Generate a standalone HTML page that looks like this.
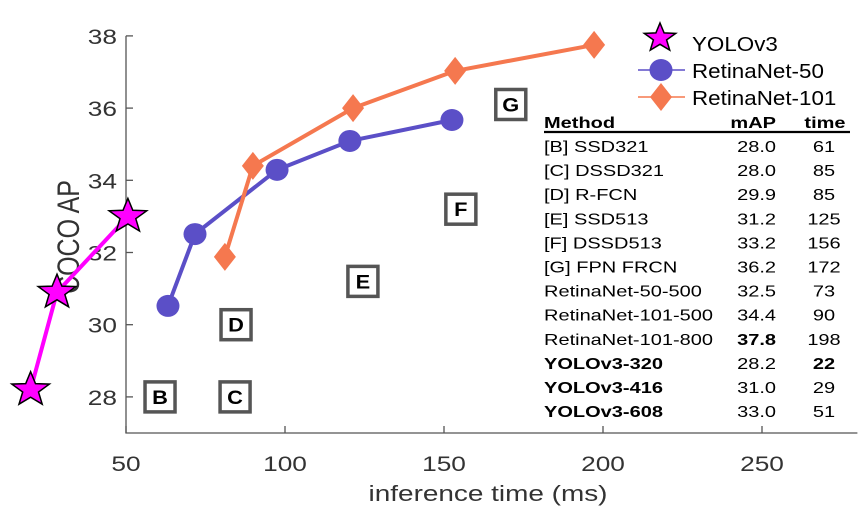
<!DOCTYPE html>
<html><head><meta charset="utf-8"><style>
html,body{margin:0;padding:0;background:#fff;}
svg{display:block;font-family:"Liberation Sans",Arial,sans-serif;}
</style></head><body>
<svg id="chart" width="867" height="519" viewBox="0 0 867 519"></svg>
<script>
const xTicks=[50,100,150,200,250];
const yTicks=[28,30,32,34,36,38];
const yoloTime=[20,28.3,50.6];
const yoloAP=[28.2,30.9,33.0];
const r50Time=[63.2,71.7,97.5,120.4,152.5];
const r50AP=[30.52,32.51,34.29,35.09,35.67];
const r101Time=[81.1,89.9,121.4,153.5,197.2];
const r101AP=[31.88,34.40,36.0,37.03,37.75];
const boxLabels=['B','C','D','E','F','G'];
const boxTime=[60.7,84.3,84.6,124.5,155.3,171];
const boxAP=[28.0,28.0,30.0,31.2,33.2,36.1];
const tMethod=['[B] SSD321','[C] DSSD321','[D] R-FCN','[E] SSD513','[F] DSSD513','[G] FPN FRCN','RetinaNet-50-500','RetinaNet-101-500','RetinaNet-101-800','YOLOv3-320','YOLOv3-416','YOLOv3-608'];
const tMAP=['28.0','28.0','29.9','31.2','33.2','36.2','32.5','34.4','37.8','28.2','31.0','33.0'];
const tTime=['61','85','85','125','156','172','73','90','198','22','29','51'];

const X=v=>126+(v-50)*3.18;
const Y=v=>433-(v-27)*36.1;
const svg=document.getElementById('chart');
const NS='http://www.w3.org/2000/svg';
function mk(tag,attrs,parent){const e=document.createElementNS(NS,tag);for(const k in attrs)e.setAttribute(k,attrs[k]);(parent||svg).appendChild(e);return e;}
function txt(x,y,s,sx,attrs,parent){attrs=Object.assign({x:0,y:0,transform:`translate(${x},${y}) scale(${sx},1)`},attrs);const t=mk('text',attrs,parent);t.textContent=s;return t;}

// axes
let ax=mk('path',{d:`M${X(50)},${Y(38)}V${Y(27)}H${X(280)}`,fill:'none',stroke:'#555','stroke-width':1.3});


xTicks.forEach(t=>{
  let l=mk('line',{x1:X(t),x2:X(t),y1:Y(27),y2:Y(27)-7,stroke:'#555','stroke-width':1.3});
  
  
  let tx=txt(X(t),471,t,1.25,{'text-anchor':'middle','font-size':21,fill:'#333'});
  
  
});
yTicks.forEach(t=>{
  let l=mk('line',{x1:X(50),x2:X(50)+7,y1:Y(t),y2:Y(t),stroke:'#555','stroke-width':1.3});
  
  
  let tx=txt(117,Y(t)+8,t,1.25,{'text-anchor':'end','font-size':21,fill:'#333'});
  
  
});
let xl=txt(488,501,'inference time (ms)',1.27,{'text-anchor':'middle','font-size':22,fill:'#333'});


let yl=mk('text',{x:0,y:0,'text-anchor':'middle','font-size':25,fill:'#333',transform:'translate(79,237) rotate(-90) scale(1,1.25)'});yl.textContent='COCO AP';



// boxes
boxLabels.forEach((b,i)=>{
  const g=mk('g',{});
  
  
  mk('rect',{x:X(boxTime[i])-15,y:Y(boxAP[i])-15,width:30,height:30,fill:'#fff',stroke:'#555','stroke-width':3.5},g);
  txt(X(boxTime[i]),Y(boxAP[i])+7,b,1.15,{'text-anchor':'middle','font-size':19,'font-weight':'bold',fill:'#000'},g);
});

function star(cx,cy,R){let p=[];for(let k=0;k<10;k++){const r=k%2?R*0.42:R;const a=-Math.PI/2+k*Math.PI/5;p.push((cx+r*Math.cos(a)*1.1).toFixed(1)+','+(cy+r*Math.sin(a)).toFixed(1));}return p.join(' ');}
function series(ts,vs,color,name,marker){
  const g=mk('g',{});
  
  
  mk('polyline',{points:ts.map((t,i)=>X(t)+','+Y(vs[i])).join(' '),fill:'none',stroke:color,'stroke-width':4,'stroke-linejoin':'round'},g);
  ts.forEach((t,i)=>{
    const cx=X(t),cy=Y(vs[i]);let m;
    if(marker==='star')m=mk('polygon',{points:star(cx,cy,18),fill:'#ff00ff',stroke:'#000','stroke-width':1.5},g);
    else if(marker==='circle')m=mk('ellipse',{cx,cy,rx:11.5,ry:11,fill:color},g);
    else m=mk('polygon',{points:`${cx},${cy-14} ${cx+11},${cy} ${cx},${cy+14} ${cx-11},${cy}`,fill:color},g);
    
    
  });
}
series(r50Time,r50AP,'#5b4fc7','retinanet-50-series','circle');
series(r101Time,r101AP,'#f5784f','retinanet-101-series','diamond');
series(yoloTime,yoloAP,'#ff00ff','yolov3-series','star');

// legend
const lg=mk('g',{});


mk('polygon',{points:star(660,38,15),fill:'#ff00ff',stroke:'#000','stroke-width':1.5},lg);
mk('line',{x1:638,x2:685,y1:70,y2:70,stroke:'#5b4fc7','stroke-width':1.5},lg);
mk('ellipse',{cx:661,cy:70,rx:11.5,ry:11,fill:'#5b4fc7'},lg);
mk('line',{x1:638,x2:685,y1:97,y2:97,stroke:'#f5784f','stroke-width':1.5},lg);
mk('polygon',{points:'661,83 672,97 661,111 650,97',fill:'#f5784f'},lg);
[['YOLOv3',51],['RetinaNet-50',78],['RetinaNet-101',105]].forEach(([s,y])=>{
  const t=txt(692,y,s,1.12,{'font-size':20,fill:'#000'},lg);
  
  
});

// table
const tb=mk('g',{});


txt(544,128,'Method',1.25,{'font-size':16,'font-weight':'bold'},tb);
txt(776,128,'mAP',1.25,{'font-size':16,'font-weight':'bold','text-anchor':'end'},tb);
txt(825,128,'time',1.25,{'font-size':16,'font-weight':'bold','text-anchor':'middle'},tb);
mk('line',{x1:544,x2:850,y1:132,y2:132,stroke:'#000','stroke-width':2.2},tb);
tMethod.forEach((m,i)=>{
  const y=152+i*24.1;
  const bm=i>=9;
  const a=txt(544,y,m,1.25,{'font-size':16,'font-weight':bm?'bold':'normal'},tb);
  
  
  const b=txt(776,y,tMAP[i],1.25,{'font-size':16,'text-anchor':'end','font-weight':i===8?'bold':'normal'},tb);
  
  
  const c=txt(824,y,tTime[i],1.25,{'font-size':16,'text-anchor':'middle','font-weight':i===9?'bold':'normal'},tb);
  
  
});
</script>
</body></html>
